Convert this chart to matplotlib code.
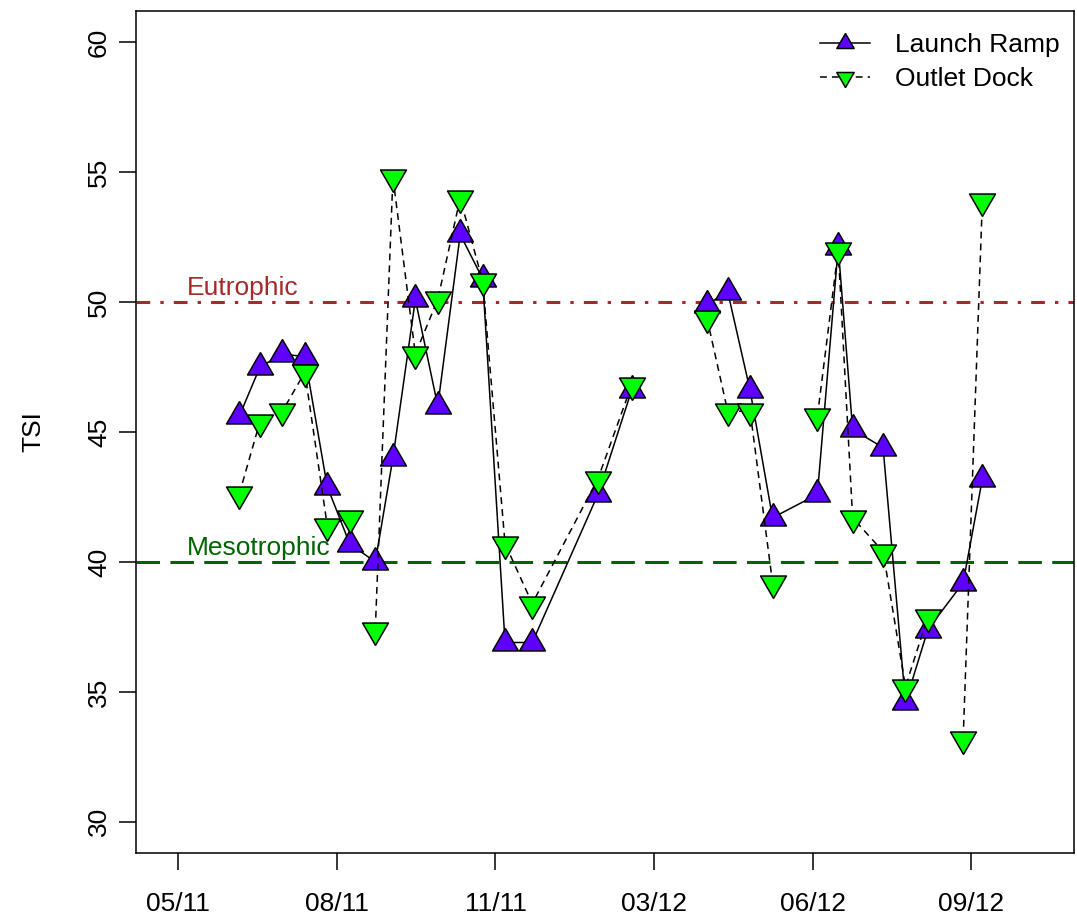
import numpy as np
import matplotlib
matplotlib.use('Agg')
import matplotlib.pyplot as plt
import matplotlib.dates as mdates
from matplotlib.ticker import FixedLocator

plt.rcParams['font.family'] = ['Liberation Sans', 'DejaVu Sans']

# sampling dates, shared by both stations
dates = ['2011-06-17', '2011-06-30', '2011-07-14', '2011-07-28', '2011-08-11',
         '2011-08-25', '2011-09-10', '2011-09-21', '2011-10-05', '2011-10-19',
         '2011-11-02', '2011-11-16', '2011-11-30', '2011-12-17', '2012-01-27',
         '2012-02-17', '2012-04-04', '2012-04-17', '2012-05-01', '2012-05-15',
         '2012-06-12', '2012-06-25', '2012-07-04', '2012-07-23', '2012-08-06',
         '2012-08-20', '2012-09-11', '2012-09-23']

launch_ramp = [45.6, 47.5, 48.0, 47.9, 42.9, 40.7, 40.0, 44.0, 50.1, 46.0,
               52.6, 50.9, 36.9, 36.9, 42.6, 46.6, 49.9, 50.4, 46.6, 41.7,
               42.6, 52.1, 45.1, 44.4, 34.6, 37.4, 39.2, 43.2]
outlet_dock = [42.6, 45.4, 45.8, 47.3, 41.4, 41.7, 37.4, 54.8, 48.0, 50.1,
               54.0, 50.8, 40.7, 38.4, 43.2, 46.8, 49.4, 45.8, 45.8, 39.2,
               45.6, 52.0, 41.7, 40.4, 35.2, 37.9, 33.2, 53.9]

# line is not drawn after these sample numbers (missing visits)
launch_breaks = [16]
outlet_breaks = [6, 16, 20, 26]

# trophic state boundaries
eutrophic = 50
mesotrophic = 40

tick_dates = ['2011-05-10', '2011-08-17', '2011-11-24',
              '2012-03-02', '2012-06-09', '2012-09-16']


def with_breaks(x, y, breaks):
    x = np.asarray(x, dtype=float)
    y = np.asarray(y, dtype=float)
    b = np.array(breaks)
    return np.insert(x, b, x[b - 1]), np.insert(y, b, np.nan)


tri_up = [(0, 1), (-0.866, -0.5), (0.866, -0.5), (0, 1)]
tri_down = [(0, -1), (-0.866, 0.5), (0.866, 0.5), (0, -1)]

x = mdates.date2num(np.array(dates, dtype='datetime64[D]'))
start = mdates.date2num(np.datetime64('2011-05-10'))

fig = plt.figure(figsize=(10.77, 9.18), dpi=100)
ax = fig.add_axes([136 / 1077, 1 - 853 / 918, (1074 - 136) / 1077, (853 - 11) / 918])

ax.axhline(eutrophic, color='#A52A2A', lw=2.2, ls=(0, (4.5, 3.3, 1.1, 3.3)), zorder=2)
ax.axhline(mesotrophic, color='#006400', lw=2.2, ls=(0, (7.7, 3.4)), zorder=2)

lx, ly = with_breaks(x, launch_ramp, launch_breaks)
ax.plot(lx, ly, color='black', lw=1.1, marker=tri_up, ms=21.5,
        mfc='#5E00FF', mec='black', mew=1.1, zorder=3, label='Launch Ramp')
ox, oy = with_breaks(x, outlet_dock, outlet_breaks)
ax.plot(ox, oy, color='black', lw=1.1, ls=(0, (4.5, 3.3)), marker=tri_down, ms=21.5,
        mfc='#00FF00', mec='black', mew=1.1, zorder=4, label='Outlet Dock')

ax.text(start + 5.4, eutrophic + 0.27, 'Eutrophic', color='#A52A2A',
        fontsize=19, ha='left', va='baseline')
ax.text(start + 5.4, mesotrophic + 0.27, 'Mesotrophic', color='#006400',
        fontsize=19, ha='left', va='baseline')

ax.set_xlim(start - 26.4, start + 559.2)
ax.set_ylim(28.8, 61.2)
ax.set_yticks(np.arange(30, 61, 5))
ax.xaxis.set_major_locator(FixedLocator(mdates.date2num(np.array(tick_dates, dtype='datetime64[D]'))))
ax.xaxis.set_major_formatter(mdates.DateFormatter('%m/%y'))

for s in ax.spines.values():
    s.set_linewidth(1.1)
ax.tick_params(direction='out', length=12, width=1.1, labelsize=19)
ax.tick_params(axis='x', pad=16)
ax.tick_params(axis='y', pad=6)
for lbl in ax.get_yticklabels():
    lbl.set_rotation(90)
    lbl.set_va('center')
ax.set_ylabel('TSI', fontsize=19, labelpad=30)

ax.legend(loc='upper left', bbox_to_anchor=(820 / 1077, 1 - 33 / 918),
          bbox_transform=fig.transFigure, frameon=False, fontsize=19,
          markerscale=0.67, handlelength=1.9, handletextpad=0.95,
          labelspacing=0.39, borderpad=0, borderaxespad=0)

fig.savefig('out.png', dpi=100)
